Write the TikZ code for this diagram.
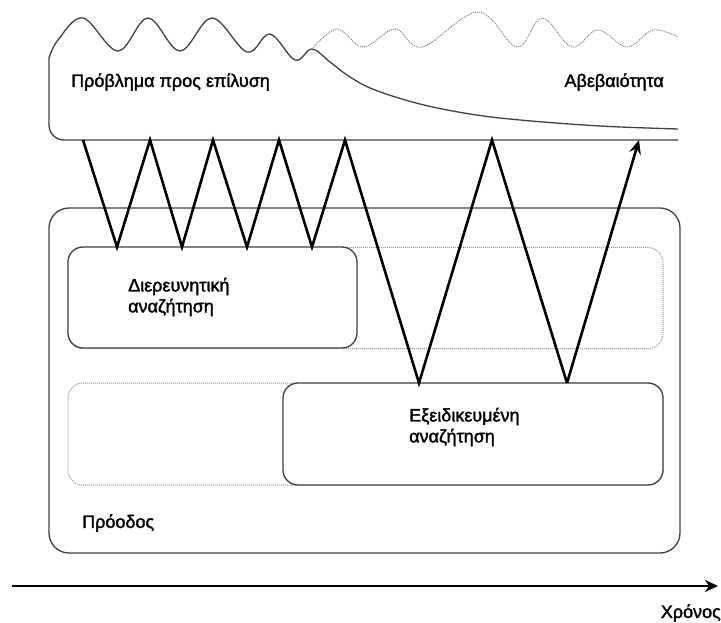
\documentclass[tikz,border=0pt]{standalone}
\usepackage{fontspec}
\setmainfont{Liberation Sans}[BoldFont=Liberation Sans, BoldFeatures={FakeBold=1.8}]
\usetikzlibrary{arrows.meta}

\tikzset{
  outline/.style={draw=black!75, line width=1.3pt},
  box/.style={outline, rounded corners=15pt, fill=white, inner sep=0pt, outer sep=0pt},
  dotbox/.style={draw=black!40, densely dotted, line width=1pt, rounded corners=15pt, inner sep=0pt, outer sep=0pt},
  txt/.style={inner sep=0pt, align=left, text=black, font=\bfseries\fontsize{18}{21}\selectfont},
  zigzag/.style={line width=2.6pt, black},
  timeline/.style={line width=2.6pt, black, -{Stealth[length=13pt,width=12pt,inset=4pt]}}
}

\begin{document}
\begin{tikzpicture}[x=1pt,y=-1pt]
   \useasboundingbox (0,0) rectangle (721,623);

   % problem shape
   \coordinate (tl) at (49,58);
   \coordinate (bl) at (49,140);
   \coordinate (br) at (678,140);
   \draw[outline, rounded corners=15pt] (tl) -- (bl) -- (br);
   \draw[outline] plot[smooth, tension=0.6] coordinates {(49,58) (58,40) (83,18) (118,51) (148,18) (180,51) (212,18) (247,52) (270,34) (295,60) (312,49)
      (330,62) (350,77) (375,90) (420,104) (470,114) (520,120) (600,126) (678,129)};
   \draw[draw=black!50, densely dotted, line width=1pt] plot[smooth, tension=0.6] coordinates {(312,49) (337,29) (363,47) (395,29) (422,47) (478,12)
      (517,47) (542,18) (572,47) (598,30) (627,47) (653,30) (678,37)};
   \node[txt, anchor=west] (problem) at (71,82) {Πρόβλημα προς επίλυση};
   \node[txt, anchor=east] (uncert) at (664,82) {Αβεβαιότητα};

   % progress area
   \node[box, rounded corners=20pt, minimum width=631pt, minimum height=345pt] (progbox) at (364.5,380.5) {};
   \node[dotbox, minimum width=595pt, minimum height=101pt] (upperdots) at (365.5,298) {};
   \node[dotbox, minimum width=595pt, minimum height=102pt] (lowerdots) at (365.5,434) {};
   \node[box, minimum width=289pt, minimum height=101pt] (explbox) at (212.5,297.5) {};
   \node[box, minimum width=380pt, minimum height=102pt] (specbox) at (473,434) {};
   \node[txt, anchor=west] (expltext) at (128,297) {Διερευνητική\\αναζήτηση};
   \node[txt, anchor=west] (spectext) at (409,427) {Εξειδικευμένη\\αναζήτηση};
   \node[txt, anchor=west] (progress) at (82,523) {Πρόοδος};

   % search path
   \coordinate (z0) at (83,140);
   \coordinate (z1) at (117,247);
   \coordinate (z2) at (150,140);
   \coordinate (z3) at (182,247);
   \coordinate (z4) at (213,140);
   \coordinate (z5) at (247,247);
   \coordinate (z6) at (279,140);
   \coordinate (z7) at (312,247);
   \coordinate (z8) at (345,140);
   \coordinate (z9) at (419,383);
   \coordinate (z10) at (492,140);
   \coordinate (z11) at (567,383);
   \coordinate (z12) at (639,140);
   \draw[zigzag] (z0) -- (z1) -- (z2) -- (z3) -- (z4) -- (z5) -- (z6) -- (z7) -- (z8) -- (z9) -- (z10) -- (z11);
   \draw[zigzag, -{Stealth[length=14pt,width=12pt,inset=5pt]}] (z11) -- (z12);

   % time axis
   \coordinate (t0) at (12,586);
   \coordinate (t1) at (718,586);
   \draw[timeline] (t0) -- (t1);
   \node[txt, anchor=east] (time) at (721,613) {Χρόνος};
\end{tikzpicture}
\end{document}
